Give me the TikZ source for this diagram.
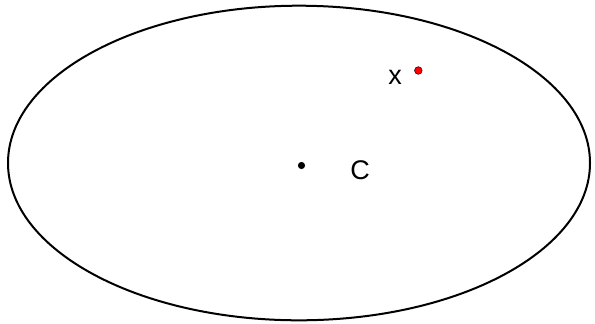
\documentclass[tikz,border=0pt]{standalone}
\usepackage{fontspec}
\setmainfont{Liberation Sans}
\usepackage{tikz}
\usetikzlibrary{positioning}

\begin{document}
\begin{tikzpicture}[x=1bp,y=-1bp]
		\useasboundingbox (0,0) rectangle (595,323);
		% Draw ellipse
		\draw[line width=2bp] (299,163) ellipse[x radius=291,y radius=157.3];
		% Centre point
		\fill (301.5,165.5) circle[radius=3.6];
		\node (c) at (360,170.5) {\fontsize{27bp}{32bp}\selectfont C};
		% Point x
		\filldraw[fill=red,draw=black!70!red,line width=0.6bp] (418.3,70.5) circle[radius=3.8];
		\node (x) at (395,77) {\fontsize{27bp}{32bp}\selectfont x};

	\end{tikzpicture}
\end{document}
